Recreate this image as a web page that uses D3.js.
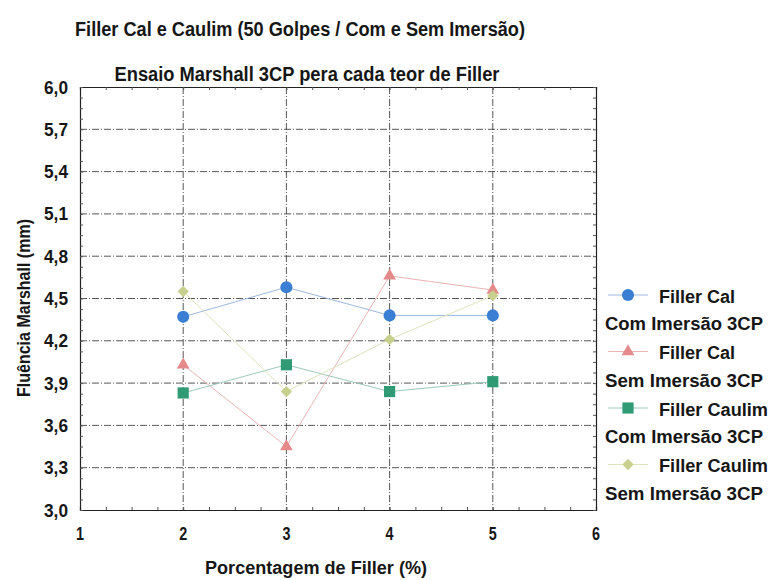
<!DOCTYPE html>
<html>
<head>
<meta charset="utf-8">
<script src="https://cdn.jsdelivr.net/npm/d3@7"></script>
<style>
  body { margin: 0; background: #fff; }
  svg text { font-family: "Liberation Sans", Arial, sans-serif; font-weight: bold; fill: #161616; }
</style>
</head>
<body>
<svg id="chart" width="771" height="580"></svg>
<script>
// Filler content (%) on the x axis
const fillerPct = [2, 3, 4, 5];

// Marshall flow (mm) for each series
const calCom    = [4.37, 4.58, 4.38, 4.38];
const calSem    = [4.03, 3.45, 4.66, 4.56];
const caulimCom = [3.83, 4.03, 3.84, 3.91];
const caulimSem = [4.55, 3.84, 4.21, 4.52];

const seriesNames = [
  ["Filler Cal", "Com Imersão 3CP"],
  ["Filler Cal", "Sem Imersão 3CP"],
  ["Filler Caulim", "Com Imersão 3CP"],
  ["Filler Caulim", "Sem Imersão 3CP"]
];

const xTicks = [1, 2, 3, 4, 5, 6];
const yTicks = [3.0, 3.3, 3.6, 3.9, 4.2, 4.5, 4.8, 5.1, 5.4, 5.7, 6.0];

const svg = d3.select("#chart");
const plot = { left: 80, right: 596, top: 87, bottom: 510 };

const x = d3.scaleLinear().domain([1, 6]).range([plot.left, plot.right]);
const y = d3.scaleLinear().domain([3.0, 6.0]).range([plot.bottom, plot.top]);

const fmt = v => d3.format(".1f")(v).replace(".", ",");

// Condensed bold text: glyphs squeezed to a set width
function narrowText(sel, str, len, size) {
  return sel.attr("font-size", size).attr("textLength", len)
    .attr("lengthAdjust", "spacingAndGlyphs").text(str);
}

// Titles
narrowText(svg.append("text").attr("x", 300).attr("y", 36).attr("text-anchor", "middle"),
  "Filler Cal e Caulim (50 Golpes / Com e Sem Imersão)", 450, 20);
narrowText(svg.append("text").attr("x", 307).attr("y", 81).attr("text-anchor", "middle"),
  "Ensaio Marshall 3CP pera cada teor de Filler", 385, 20);

// Grid lines (dash-dot)
const grid = svg.append("g").attr("stroke", "#444").attr("stroke-width", 0.9)
  .attr("stroke-dasharray", "7,2,1,2");
grid.selectAll(".gy").data(yTicks.slice(1, -1)).join("line")
  .attr("x1", plot.left).attr("x2", plot.right)
  .attr("y1", d => y(d)).attr("y2", d => y(d));
grid.selectAll(".gx").data(xTicks.slice(1, -1)).join("line")
  .attr("y1", plot.top).attr("y2", plot.bottom)
  .attr("x1", d => x(d)).attr("x2", d => x(d));

// Frame with small inward ticks
const xMinor = d3.range(1, 6.001, 0.25);
const yMinor = d3.range(3.0, 6.001, 0.075);

const axB = d3.axisBottom(x).tickValues(xMinor).tickSize(-3).tickFormat("");
const axT = d3.axisTop(x).tickValues(xMinor).tickSize(-3).tickFormat("");
const axL = d3.axisLeft(y).tickValues(yMinor).tickSize(-3).tickFormat("");
const axR = d3.axisRight(y).tickValues(yMinor).tickSize(-3).tickFormat("");

function styleAxis(g) {
  g.select(".domain").attr("stroke", "#222").attr("stroke-width", 1.2);
  g.selectAll(".tick line").attr("stroke", "#555");
}
svg.append("g").attr("transform", `translate(0,${plot.bottom})`).call(axB).call(styleAxis);
svg.append("g").attr("transform", `translate(0,${plot.top})`).call(axT).call(styleAxis);
svg.append("g").attr("transform", `translate(${plot.left},0)`).call(axL).call(styleAxis);
svg.append("g").attr("transform", `translate(${plot.right},0)`).call(axR).call(styleAxis);

// Tick labels
svg.append("g").selectAll("text").data(yTicks).join("text")
  .attr("x", plot.left - 12).attr("y", d => y(d) + 6.5)
  .attr("text-anchor", "end")
  .each(function (d) { narrowText(d3.select(this), fmt(d), 24, 18); });
svg.append("g").selectAll("text").data(xTicks).join("text")
  .attr("x", d => x(d)).attr("y", 540)
  .attr("text-anchor", "middle")
  .each(function (d) { narrowText(d3.select(this), String(d), 8, 18); });

// Axis titles
narrowText(svg.append("text").attr("x", 316).attr("y", 574).attr("text-anchor", "middle"),
  "Porcentagem de Filler (%)", 222, 18);
narrowText(svg.append("text").attr("transform", "translate(30,308) rotate(-90)")
  .attr("text-anchor", "middle"), "Fluência Marshall (mm)", 178, 18);

// Diamond drawn as a square turned 45°
const diamondSym = {
  draw(ctx, size) {
    const r = Math.sqrt(size / 2);
    ctx.moveTo(0, -r); ctx.lineTo(r, 0); ctx.lineTo(0, r); ctx.lineTo(-r, 0); ctx.closePath();
  }
};

// Series
const series = [
  { values: calCom,    marker: d3.symbolCircle,   size: 115, fill: "#3b7fd4", line: "#9bb8dc" },
  { values: calSem,    marker: d3.symbolTriangle, size: 70,  fill: "#e58a8a", line: "#ebb5b5" },
  { values: caulimCom, marker: d3.symbolSquare,   size: 125, fill: "#2f9a74", line: "#9ccab8" },
  { values: caulimSem, marker: diamondSym,        size: 64,  fill: "#c8d08e", line: "#dfe3bd" }
];

const lineGen = d3.line().x((d, i) => x(fillerPct[i])).y(d => y(d));

series.forEach(s => {
  svg.append("path").datum(s.values).attr("d", lineGen)
    .attr("fill", "none").attr("stroke", s.line).attr("stroke-width", 1);
});
series.forEach(s => {
  svg.append("g").selectAll("path").data(s.values).join("path")
    .attr("transform", (d, i) => `translate(${x(fillerPct[i])},${y(d)})`)
    .attr("d", d3.symbol().type(s.marker).size(s.size))
    .attr("fill", s.fill);
});

// Legend
const leg = svg.append("g");
const legY0 = 295, legStep = 56.5;
const nameLen = [76, 76, 109, 109];
series.forEach((s, i) => {
  const yy = legY0 + i * legStep;
  leg.append("line").attr("x1", 608).attr("x2", 648).attr("y1", yy).attr("y2", yy)
    .attr("stroke", s.line).attr("stroke-width", 1);
  leg.append("path").attr("transform", `translate(628,${yy})`)
    .attr("d", d3.symbol().type(s.marker).size(s.size)).attr("fill", s.fill);
  narrowText(leg.append("text").attr("x", 659).attr("y", yy + 7.5),
    seriesNames[i][0], nameLen[i], 18);
  narrowText(leg.append("text").attr("x", 605).attr("y", yy + 35),
    seriesNames[i][1], 158, 18);
});
</script>
</body>
</html>
